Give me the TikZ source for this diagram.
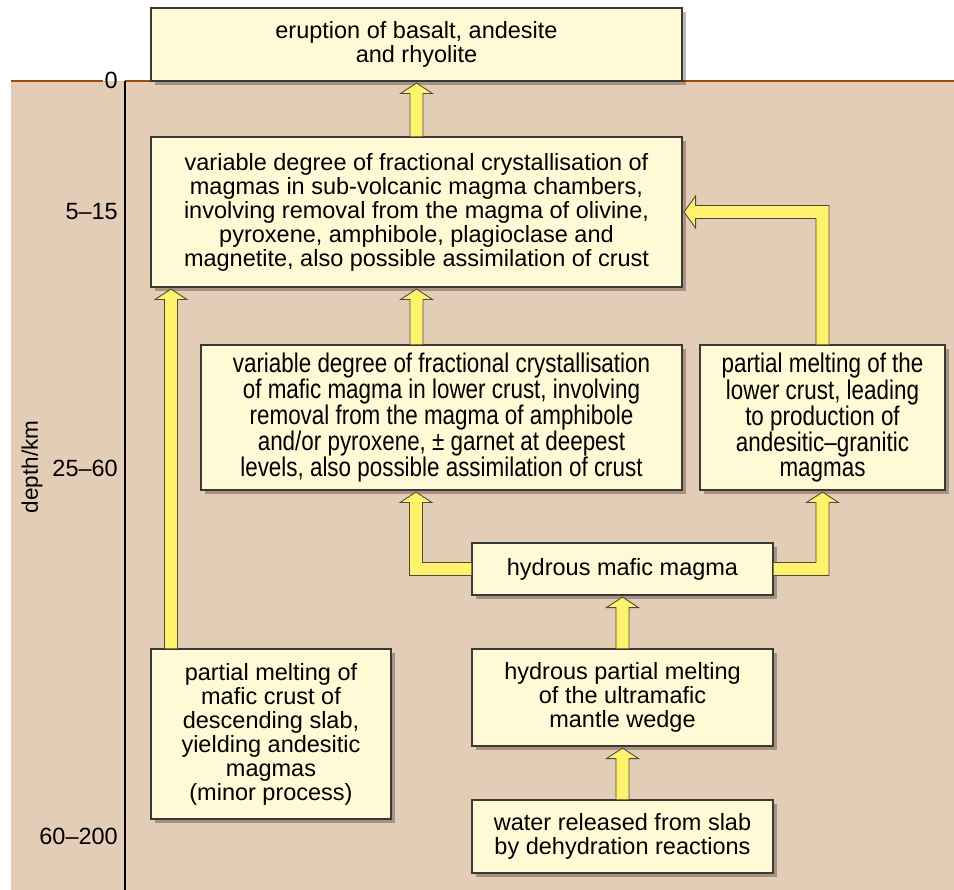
\documentclass[tikz,border=0pt]{standalone}
\usepackage{fontspec}
\setmainfont{Liberation Sans}
\newfontfamily\narrowfont[FakeStretch=0.83]{Liberation Sans}
\usetikzlibrary{shadows,calc}
\definecolor{bgbrown}{HTML}{E4CDB7}
\definecolor{surfline}{HTML}{9C4A0E}
\definecolor{boxfill}{HTML}{FFF9D6}
\definecolor{boxline}{HTML}{3A3A35}
\definecolor{afill}{HTML}{FFF36E}
\definecolor{aline}{HTML}{4D4A38}
\tikzset{
  procbox/.style={draw=boxline, line width=1.1pt, fill=boxfill, inner sep=0pt, align=center,
    font=\fontsize{23.5}{24}\selectfont,
    drop shadow={shadow xshift=4pt, shadow yshift=-4pt, opacity=0.28, fill=black}},
  narrowbox/.style={procbox, font=\narrowfont\fontsize{27}{24.6}\selectfont},
  fatarrow/.style={fill=afill, draw=aline, line width=0.9pt, line join=miter},
  depthlbl/.style={anchor=east, inner sep=0pt, font=\fontsize{23.5}{24}\selectfont}
}
\newcommand\upArrow[3]{%
  \filldraw[fatarrow] let \p1=(#1.north), \p2=(#2.south) in
    (#3pt-6.5pt,\y1) -- (#3pt-6.5pt,\y2-12pt) -- (#3pt-16pt,\y2-12pt) -- (#3pt,\y2-1.5pt)
    -- (#3pt+16pt,\y2-12pt) -- (#3pt+6.5pt,\y2-12pt) -- (#3pt+6.5pt,\y1);}
\begin{document}
\begin{tikzpicture}[x=1pt,y=-1pt]
\useasboundingbox (0,0) rectangle (954,890);
\fill[white] (0,0) rectangle (954,890);
\fill[bgbrown] (11,81) rectangle (954,890);
\draw[surfline, line width=1.5pt] (11,81) -- (103,81);
\draw[surfline, line width=1.5pt] (125,81) -- (954,81);
\draw[black, line width=1.4pt] (125,81) -- (125,890);

\node[depthlbl] (d0) at (118,80) {0};
\node[depthlbl] (d1) at (118,212) {5–15};
\node[depthlbl] (d2) at (118,468) {25–60};
\node[depthlbl] (d3) at (118,836) {60–200};
\node[rotate=90, inner sep=0pt, font=\fontsize{22.5}{24}\selectfont] (dk) at (32,467) {depth/km};

\node[procbox, minimum width=531, minimum height=73] (b1) at (416.5,44.5)
  {eruption of basalt, andesite\\and rhyolite};
\node[procbox, minimum width=531, minimum height=150] (b2) at (416.5,212)
  {variable degree of fractional crystallisation of\\magmas in sub-volcanic magma chambers,\\involving removal from the magma of olivine,\\pyroxene, amphibole, plagioclase and\\magnetite, also possible assimilation of crust};
\node[narrowbox, minimum width=481, minimum height=145] (b3) at (441.5,417.5)
  {variable degree of fractional crystallisation\\of mafic magma in lower crust, involving\\removal from the magma of amphibole\\and/or pyroxene, ± garnet at deepest\\levels, also possible assimilation of crust};
\node[narrowbox, minimum width=245, minimum height=145] (b4) at (822.5,417.5)
  {partial melting of the\\lower crust, leading\\to production of\\andesitic–granitic\\magmas};
\node[procbox, minimum width=301, minimum height=52] (b5) at (622.5,569)
  {hydrous mafic magma};
\node[procbox, minimum width=240, minimum height=170] (b6) at (271,734)
  {partial melting of\\mafic crust of\\descending slab,\\yielding andesitic\\magmas\\(minor process)};
\node[procbox, minimum width=301, minimum height=97] (b7) at (622.5,697.5)
  {hydrous partial melting\\of the ultramafic\\mantle wedge};
\node[procbox, minimum width=301, minimum height=73] (b8) at (622.5,836.5)
  {water released from slab\\by dehydration reactions};

% straight arrows
\upArrow{b2}{b1}{416.5}
\upArrow{b3}{b2}{416.5}
\upArrow{b6}{b2}{171}
\upArrow{b7}{b5}{622.5}
\upArrow{b8}{b7}{622.5}

% elbow: b5 -> b3
\filldraw[fatarrow] let \p1=(b5.west), \p2=(b3.south) in
  (\x1,\y1+6.5pt) -- (422.5pt,\y1+6.5pt) -- (422.5pt,\y2-12pt) -- (432pt,\y2-12pt) -- (416pt,\y2-1.5pt)
  -- (400pt,\y2-12pt) -- (409.5pt,\y2-12pt) -- (409.5pt,\y1-6.5pt) -- (\x1,\y1-6.5pt);
% elbow: b5 -> b4
\filldraw[fatarrow] let \p1=(b5.east), \p2=(b4.south) in
  (\x1,\y1+6.5pt) -- (\x2-6.5pt,\y1+6.5pt) -- (\x2-6.5pt,\y2-12pt) -- (\x2-16pt,\y2-12pt) -- (\x2,\y2-1.5pt)
  -- (\x2+16pt,\y2-12pt) -- (\x2+6.5pt,\y2-12pt) -- (\x2+6.5pt,\y1-6.5pt) -- (\x1,\y1-6.5pt);
% elbow: b4 -> b2
\filldraw[fatarrow] let \p1=(b4.north), \p2=(b2.east) in
  (\x1-6.5pt,\y1) -- (\x1-6.5pt,\y2-6.5pt) -- (\x2+13pt,\y2-6.5pt) -- (\x2+13pt,\y2-16pt) -- (\x2+1.5pt,\y2)
  -- (\x2+13pt,\y2+16pt) -- (\x2+13pt,\y2+6.5pt) -- (\x1+6.5pt,\y2+6.5pt) -- (\x1+6.5pt,\y1);
\end{tikzpicture}
\end{document}
